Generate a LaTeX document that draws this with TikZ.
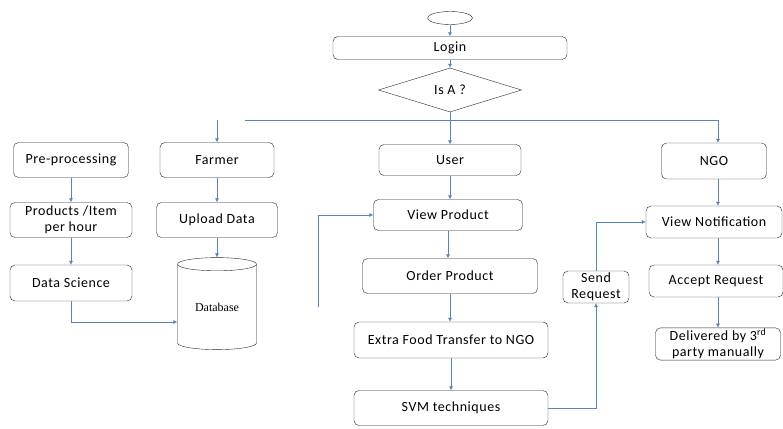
\documentclass[tikz,border=0pt]{standalone}
\usepackage{fontspec}
\setmainfont{Carlito}[LetterSpace=4]
\newfontfamily\dbfont{Liberation Serif}
\usetikzlibrary{positioning,shapes.geometric,arrows.meta}

\begin{document}
\begin{tikzpicture}
	[x=1pt,y=-1pt,font=\fontsize{14}{16}\selectfont,
	bx/.style={draw=black!85,rounded corners=5pt,align=center,inner sep=1pt},
	ln/.style={draw={rgb,255:red,84;green,132;blue,196},line width=0.5pt},
	ar/.style={ln,-{Latex[length=4pt,width=4pt]}}]
	\useasboundingbox (0,0) rectangle (783,428);
	%%%%% TOP
	\node[draw=black!85,ellipse,inner sep=0,minimum width=45pt,minimum height=13pt] (start) at (450,18) {};
	\node[bx,minimum width=234pt,minimum height=23pt] (login) at (450,48) {Login};
	\node[draw=black!85,diamond,aspect=3.25,inner sep=0,minimum width=143pt,minimum height=44pt] (isa) at (450,90) {Is A ?};
	\draw[ar] (start) -- (login);
	\draw[ar] (login) -- (isa);
	\coordinate (busl) at (245,120);
	\coordinate (busm) at (450,120);
	\coordinate (busr) at (718,120);
	\coordinate (farmtop) at (217,120);
	\draw[ln] (isa.south) -- (busm);
	\draw[ln] (busl) -- (busr);
	%%%%% LEFT
	\node[bx,minimum width=115pt,minimum height=35pt] (pre) at (71,160) {Pre-processing};
	\node[bx,minimum width=122pt,minimum height=35pt] (prod) at (71,220) {Products /Item\\per hour};
	\node[bx,minimum width=122pt,minimum height=36pt] (ds) at (71,283) {Data Science};
	\node[bx,minimum width=114pt,minimum height=35pt] (farmer) at (217,160) {Farmer};
	\node[bx,minimum width=121pt,minimum height=35pt] (upload) at (217,220) {Upload Data};
	\node[draw=black!85,cylinder,shape border rotate=90,aspect=0.3,inner sep=0,minimum width=79pt,minimum height=92pt,font=\dbfont\fontsize{12}{14}\selectfont] (db) at (217,307) {Database};
	%%%%% MIDDLE
	\node[bx,minimum width=142pt,minimum height=31pt] (user) at (450,160) {User};
	\node[bx,minimum width=149pt,minimum height=31pt] (vp) at (448,215) {View Product};
	\node[bx,minimum width=175pt,minimum height=35pt] (op) at (450,276) {Order Product};
	\node[bx,minimum width=194pt,minimum height=36pt] (extra) at (451,340) {Extra Food Transfer to NGO};
	\node[bx,minimum width=194pt,minimum height=35pt] (svm) at (451,408) {SVM techniques};
	\coordinate (fb) at (318,307);
	%%%%% RIGHT
	\node[bx,minimum width=105pt,minimum height=36pt] (ngo) at (714,161) {NGO};
	\node[bx,minimum width=136pt,minimum height=32pt] (vn) at (714,222) {View Notification};
	\node[bx,minimum width=134pt,minimum height=32pt] (acc) at (716,281) {Accept Request};
	\node[bx,minimum width=125pt,minimum height=32pt] (del) at (718,344) {Delivered by 3\textsuperscript{rd}\\party manually};
	\node[bx,minimum width=66pt,minimum height=32pt] (sr) at (596,287) {Send\\Request};
	%%%%% ARROWS
	\draw[ar] (busm) -- (user);
	\draw[ar] (busr) -- (busr |- ngo.north);
	\draw[ar] (farmtop) -- (farmer);
	\foreach \a/\b in {pre/prod,prod/ds,farmer/upload,upload/db,user/vp,vp/op,op/extra,extra/svm}
	{
	\draw[ar] (\a.south) -- (\a.south |- \b.north);
	};
	\foreach \a/\b in {ngo/vn,vn/acc,acc/del}
	{
	\draw[ar] (busr |- \a.south) -- (busr |- \b.north);
	};
	\draw[ar] (ds.south) |- ([yshift=-15pt]db.west);
	\draw[ar] (fb) |- (vp.west);
	\draw[ar] (svm.east) -| (sr.south);
	\draw[ar] (sr.north) |- (vn.west);
\end{tikzpicture}
\end{document}
